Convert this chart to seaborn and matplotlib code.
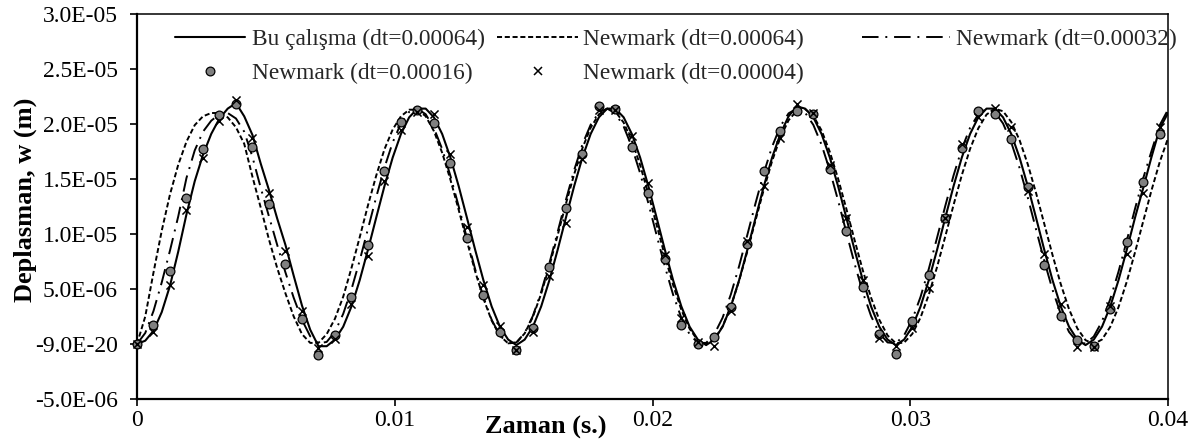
import numpy as np
import matplotlib
matplotlib.use("Agg")
import matplotlib.pyplot as plt
import seaborn as sns
from matplotlib.lines import Line2D
from matplotlib.ticker import FixedLocator, FixedFormatter

# zaman adimlari (s)
dt_cizgi = 0.00032
dt_isaret = 0.00064

# deplasman, w (x1e-6 m) - cizgiler dt_cizgi araliklarla
bu_calisma = [
    0, 0.3, 1.2, 2.9, 5.3, 8.4, 11.8, 14.8, 17.2, 19.1, 20.5, 21.4, 21.9, 20.7, 19.0, 16.4, 14.0, 11.4, 9.0, 6.2, 3.5, 1.3, -0.2,
    -0.2, 0.4, 1.57, 3.41, 5.8, 8.56, 11.48, 14.35, 16.95, 19.09, 20.61, 21.4, 21.4, 20.61, 19.09, 16.95, 14.35, 11.48, 8.56, 5.8, 3.41, 1.57, 0.4,
    -0.1, 0.4, 1.57, 3.41, 5.8, 8.56, 11.48, 14.35, 16.95, 19.09, 20.61, 21.4, 21.4, 20.61, 19.09, 16.95, 14.35, 11.48, 8.56, 5.8, 3.41, 1.57, 0.4,
    -0.1, 0.4, 1.57, 3.41, 5.8, 8.56, 11.48, 14.35, 16.95, 19.09, 20.7, 21.6, 21.4, 20.61, 19.09, 16.95, 14.35, 11.48, 8.56, 5.8, 3.41, 1.57, 0.4,
    -0.1, 0.4, 1.57, 3.41, 5.8, 8.56, 11.48, 14.35, 16.95, 19.09, 20.61, 21.4, 21.4, 20.61, 19.09, 16.95, 14.35, 11.48, 8.56, 5.8, 3.41, 1.57, 0.4,
    -0.1, 0.4, 1.57, 3.41, 5.8, 8.56, 11.48, 14.2, 17.0, 19.6, 21.0,
]
newmark_00064 = [
    0, 2.5, 6.5, 10.3, 13.6, 16.3, 18.4, 19.9, 20.7, 21.0, 21.0, 20.6, 19.7, 18.2, 15.2, 12.4, 9.5, 6.9, 4.6, 2.5, 0.9, 0.1, 0.1, 0.9,
    2.3, 4.3, 6.9, 9.7, 12.6, 15.3, 17.7, 19.5, 20.7, 21.3, 21.3,
    20.71, 19.35, 17.38, 14.94, 12.20, 9.35, 6.60, 4.13, 2.13, 0.74,
    0.06, 0.13, 0.96, 2.47, 4.57, 7.10, 9.89, 12.74, 15.43, 17.80,
    19.66, 20.88, 21.39, 21.13, 20.13, 18.47, 16.26, 13.64, 10.82, 8.00,
    5.36, 3.10, 1.38, 0.32, 0.0, 0.44, 1.61, 3.42, 5.75, 8.43,
    11.27, 14.06, 16.63, 18.77, 20.34, 21.22, 21.36, 20.74, 19.41, 17.46,
    15.04, 12.30, 9.45, 6.69, 4.21, 2.20, 0.78, 0.07, 0.12, 0.92,
    2.41, 4.49, 7.00, 9.79, 12.64, 15.35, 17.73, 19.61, 20.86, 21.39,
    21.16, 20.18, 18.54, 16.34, 13.74, 10.92, 8.09, 5.44, 3.17, 1.43,
    0.35, 0.0, 0.41, 1.56, 3.35, 5.66, 8.33, 11.17, 13.97, 16.55, 18.70,
]
newmark_00032 = [
    0, 1.0, 3.0, 5.6, 8.5, 11.6, 15.1, 17.6, 19.3, 20.3, 20.9, 21.0, 20.5, 19.3, 17.0, 14.2, 11.6, 9.0, 6.5, 4.2, 2.2, 0.7, 0.05,
    0.19, 1.11, 2.74, 4.96, 7.59, 10.46, 13.35, 16.03, 18.33, 20.06,
    21.11, 21.39, 20.89, 19.63, 17.72, 15.29, 12.52, 9.62, 6.80, 4.27,
    2.20, 0.77, 0.06, 0.14, 1.00, 2.56, 4.73, 7.34, 10.19, 13.09,
    15.80, 18.14, 19.93, 21.05, 21.40, 20.97, 19.78, 17.92, 15.53, 12.79,
    9.89, 7.05, 4.48, 2.37, 0.87, 0.10, 0.10, 0.89, 2.39, 4.51,
    7.08, 9.93, 12.82, 15.56, 17.94, 19.79, 20.97, 21.40, 21.04, 19.92,
    18.11, 15.77, 13.05, 10.16, 7.30, 4.71, 2.54, 0.98, 0.14, 0.07,
    0.78, 2.23, 4.29, 6.83, 9.66, 12.56, 15.32, 17.74, 19.65, 20.89,
    21.39, 21.10, 20.05, 18.31, 16.01, 13.31, 10.43, 7.56, 4.93, 2.72,
    1.10, 0.18, 0.04, 0.68, 2.06, 4.08, 6.58, 9.39, 12.29, 15.08,
    17.54, 19.9, 21.3,
]

# isaretler dt_isaret araliklarla
newmark_00016 = [
    0, 1.70, 6.6, 13.3, 17.75, 20.8, 21.85, 17.9, 12.7, 7.3,
    2.27, -1.0, 0.79, 4.27, 9.0, 15.7, 20.2, 21.3, 20.06, 16.5,
    9.67, 4.42, 1.09, -0.58, 1.48, 7.0, 12.4, 17.3, 21.6, 21.4,
    17.9, 13.7, 7.7, 1.75, 0.0, 0.64, 3.36, 9.06, 15.7, 19.4,
    21.2, 20.9, 15.9, 10.3, 5.2, 0.88, -0.94, 2.09, 6.3, 11.5,
    17.8, 21.2, 20.9, 18.6, 14.3, 7.2, 2.55, 0.34, -0.18, 3.2,
    9.3, 14.75, 19.06,
]
newmark_00004 = [
    0, 1.12, 5.36, 12.2, 16.9, 20.3, 22.2, 18.75, 13.75, 8.45,
    3.0, -0.4, 0.42, 3.6, 8.0, 14.8, 19.5, 21.1, 20.9, 17.25,
    10.6, 5.4, 1.64, -0.5, 1.1, 6.2, 11.0, 16.8, 21.3, 21.3,
    18.9, 14.6, 8.06, 2.4, 0.2, -0.2, 3.0, 9.36, 14.4, 18.75,
    21.8, 21.0, 16.3, 11.5, 5.8, 0.57, -0.18, 1.5, 5.1, 11.5,
    18.15, 20.6, 21.5, 19.7, 13.9, 8.15, 3.66, -0.3, -0.3, 3.5,
    8.15, 13.75, 19.7,
]

etiketler = ["Bu çalışma (dt=0.00064)", "Newmark (dt=0.00064)", "Newmark (dt=0.00032)",
             "Newmark (dt=0.00016)", "Newmark (dt=0.00004)"]

x_ticks = [0, 0.01, 0.02, 0.03, 0.04]
x_tick_labels = ["0", "0.01", "0.02", "0.03", "0.04"]
y_ticks = [-5e-6, 0, 5e-6, 1e-5, 1.5e-5, 2e-5, 2.5e-5, 3e-5]
y_tick_labels = ["-5.0E-06", "-9.0E-20", "5.0E-06", "1.0E-05", "1.5E-05", "2.0E-05", "2.5E-05", "3.0E-05"]

sns.set_theme(style="white")
plt.rcParams["font.family"] = ["Liberation Serif", "DejaVu Serif"]

t_cizgi = np.arange(len(bu_calisma)) * dt_cizgi
t_isaret = np.arange(len(newmark_00016)) * dt_isaret
u = 1e-6

kesik = (0, (2.6, 1.4))
nokta_cizgi = (0, (8.5, 3.5, 1.0, 3.5))

fig = plt.figure(figsize=(11.98, 4.48), dpi=100)
ax = fig.add_axes([137 / 1198, 49 / 448, 1031 / 1198, 385 / 448])

sns.lineplot(x=t_cizgi, y=np.array(newmark_00064) * u, ax=ax, color="black", linewidth=1.4,
             linestyle=kesik, sort=False, estimator=None, zorder=2)
sns.lineplot(x=t_cizgi, y=np.array(newmark_00032) * u, ax=ax, color="black", linewidth=1.4,
             linestyle=nokta_cizgi, sort=False, estimator=None, zorder=2)
sns.lineplot(x=t_cizgi, y=np.array(bu_calisma) * u, ax=ax, color="black", linewidth=1.5,
             sort=False, estimator=None, zorder=2)
sns.scatterplot(x=t_isaret, y=np.array(newmark_00016) * u, ax=ax, marker="o", s=40,
                color="#808080", edgecolor="black", linewidth=0.9, zorder=3, clip_on=False)
sns.scatterplot(x=t_isaret, y=np.array(newmark_00004) * u, ax=ax, marker="x", s=34,
                color="black", linewidth=1.1, zorder=4, clip_on=False)

ax.set_xlim(0, 0.04)
ax.set_ylim(-5e-6, 3e-5)
ax.xaxis.set_major_locator(FixedLocator(x_ticks))
ax.xaxis.set_major_formatter(FixedFormatter(x_tick_labels))
ax.yaxis.set_major_locator(FixedLocator(y_ticks))
ax.yaxis.set_major_formatter(FixedFormatter(y_tick_labels))
ax.tick_params(axis="both", direction="out", length=5, width=1.2, color="black",
               labelsize=17, labelcolor="black", bottom=True, left=True)
ax.tick_params(axis="y", pad=9)
ax.tick_params(axis="x", pad=3)

for s in ["left", "bottom"]:
    ax.spines[s].set_linewidth(1.6)
for s in ["top", "right"]:
    ax.spines[s].set_linewidth(1.1)
for s in ax.spines.values():
    s.set_color("black")

ax.set_xlabel("Zaman (s.)", fontsize=19, fontweight="bold", color="black")
ax.xaxis.set_label_coords(409 / 1031, -0.045)
ax.set_ylabel("Deplasman, w (m)", fontsize=19, fontweight="bold", color="black")
ax.yaxis.set_label_coords(-0.097, 0.517)

h_duz = Line2D([], [], color="black", lw=1.5)
h_kesik = Line2D([], [], color="black", lw=1.4, ls=kesik)
h_nc = Line2D([], [], color="black", lw=1.4, ls=nokta_cizgi)
h_daire = Line2D([], [], ls="none", marker="o", ms=6.3, mfc="#808080", mec="black", mew=0.9)
h_carpi = Line2D([], [], ls="none", marker="x", ms=5.8, mec="black", mew=1.1)

ortak = dict(loc="upper left", frameon=False, borderpad=0, borderaxespad=0,
             labelspacing=0.55, fontsize=16.8)
leg1 = ax.legend([h_duz, h_daire], [etiketler[0], etiketler[3]], bbox_to_anchor=(0.0369, 0.962),
                 handlelength=3.0, handletextpad=0.3, **ortak)
ax.add_artist(leg1)
leg2 = ax.legend([h_kesik, h_carpi], [etiketler[1], etiketler[4]], bbox_to_anchor=(0.349, 0.962),
                 handlelength=3.5, handletextpad=0.2, **ortak)
ax.add_artist(leg2)
ax.legend([h_nc], [etiketler[2]], bbox_to_anchor=(0.703, 0.962),
          handlelength=3.8, handletextpad=0.25, **ortak)

fig.savefig("out.png", dpi=100)
